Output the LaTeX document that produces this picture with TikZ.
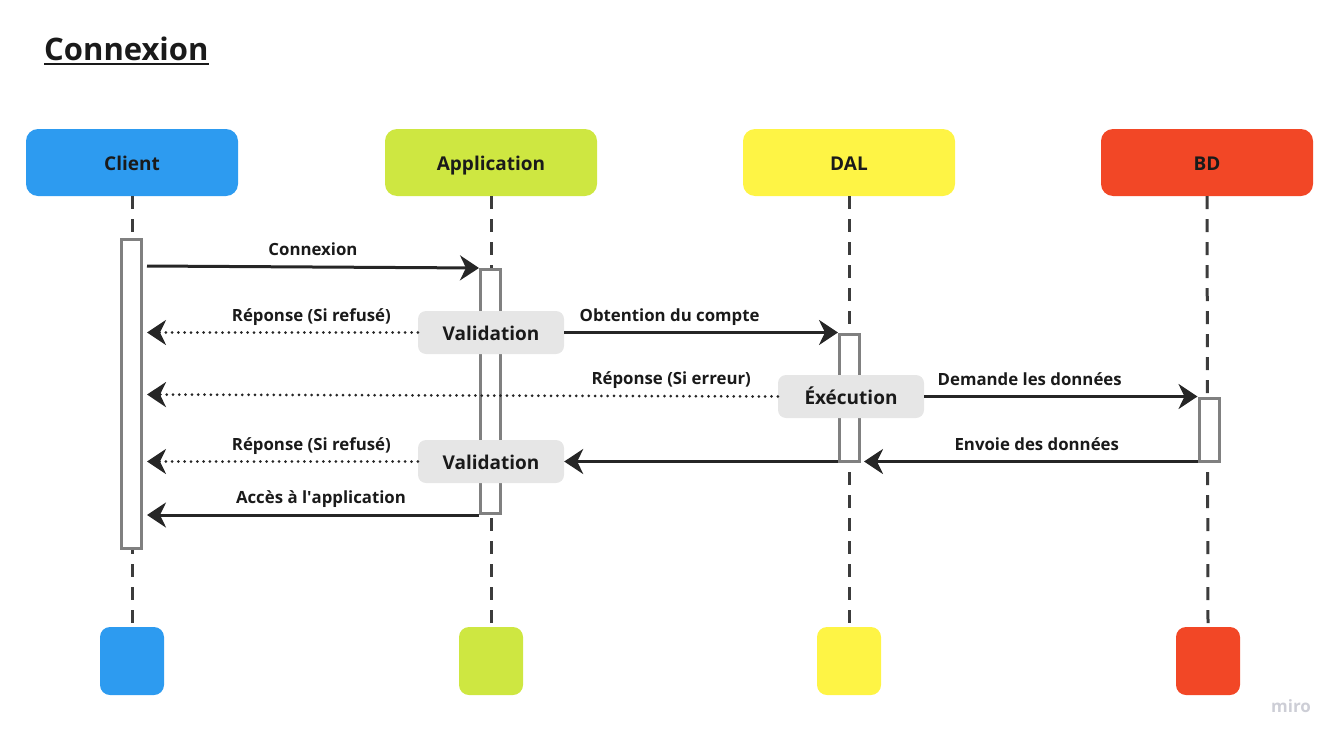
\documentclass[tikz,border=0pt]{standalone}
\usepackage{fontspec}
\setmainfont{Open Sans}
\usetikzlibrary{arrows.meta,calc}
\definecolor{cblue}{HTML}{2D9BF0}
\definecolor{cgreen}{HTML}{CEE741}
\definecolor{cyellow}{HTML}{FEF445}
\definecolor{cred}{HTML}{F24726}
\definecolor{ink}{HTML}{1A1A1A}
\definecolor{lineink}{HTML}{262626}
\definecolor{boxgray}{HTML}{E6E6E6}
\definecolor{bargray}{HTML}{808080}
\definecolor{mirogray}{HTML}{CDCED6}
\tikzset{
  hdr/.style={rounded corners=12pt, minimum width=212pt, minimum height=67pt, inner sep=0pt,
    text=ink, font=\fontsize{19}{21}\selectfont\bfseries, text height=16.6pt, text depth=0pt},
  ftr/.style={rounded corners=10pt, minimum width=64pt, minimum height=68pt, inner sep=0pt},
  life/.style={draw=lineink!90, line width=3pt, dash pattern=on 13pt off 10pt},
  actbar/.style={draw=bargray, fill=white, line width=3pt, minimum width=20pt, inner sep=0pt},
  gbox/.style={fill=boxgray, rounded corners=8pt, minimum width=146pt, minimum height=43pt,
    inner sep=0pt, text=ink, font=\fontsize{19}{21}\selectfont\bfseries, text height=16.6pt, text depth=0pt},
  msg/.style={draw=lineink, line width=3pt, -{Stealth[length=19pt, width=25pt, inset=6pt]}},
  dotmsg/.style={msg, dash pattern=on 0pt off 6.3pt, line cap=round},
  lbl/.style={text=ink, font=\fontsize{16.8}{18}\selectfont\bfseries, inner sep=0pt,
    text height=12pt, text depth=3.5pt, above=6.5pt},
}
\begin{document}
\begin{tikzpicture}[x=1pt, y=-1pt]
\useasboundingbox (0,0) rectangle (1343,744);

% title
\node[anchor=base west, inner sep=0pt, text=ink, font=\fontsize{31}{34}\selectfont\bfseries] (title) at (44,60) {Connexion};
\draw[ink, line width=2pt] ([yshift=-3.5pt]title.base west) -- ([yshift=-3.5pt]title.base east);

% headers
\node[hdr, fill=cblue]   (client) at (132,162.5) {Client};
\node[hdr, fill=cgreen]  (app)    at (491,162.5) {Application};
\node[hdr, fill=cyellow] (dal)    at (849,162.5) {DAL};
\node[hdr, fill=cred]    (bd)     at (1207,162.5) {BD};

% footers
\node[ftr, fill=cblue]   (clientB) at (132,661) {};
\node[ftr, fill=cgreen]  (appB)    at (491,661) {};
\node[ftr, fill=cyellow] (dalB)    at (849,661) {};
\node[ftr, fill=cred]    (bdB)     at (1208,661) {};

% lifelines
\draw[life] (client.south) -- (clientB.north);
\draw[life] (app.south) -- (appB.north);
\draw[life] (dal.south) -- (dalB.north);
\draw[life] (bd.south) -- (bdB.north);

% activation bars
\node[actbar, minimum height=309pt] (cact) at (131.5,394) {};
\node[actbar, minimum height=244pt] (aact) at (490.5,391.5) {};
\node[actbar, minimum height=127pt] (dact) at (849.5,398) {};
\node[actbar, minimum height=63pt]  (bact) at (1209,430) {};

% grey boxes
\node[gbox] (val1) at (491,332.5) {Validation};
\node[gbox] (exec) at (851,396.5) {Éxécution};
\node[gbox] (val2) at (491,461.5) {Validation};

% messages
\coordinate (c0) at (147,266);
\draw[msg] (c0) -- (aact.north west) node[lbl, pos=0.5] (l1) {Connexion};
\draw[dotmsg] (val1.west) -- ($(cact.east |- val1.west)+(4,0)$) node[lbl, pos=0.393] (l2) {Réponse (Si refusé)};
\draw[msg] (val1.east) -- (dact.west |- val1.east) node[lbl, pos=0.385] (l3) {Obtention du compte};
\draw[dotmsg] (exec.west) -- ($(cact.east |- exec.west)+(4,-2)$) node[lbl, pos=0.169] (l4) {Réponse (Si erreur)};
\draw[msg] (exec.east) -- (bact.west |- exec.east) node[lbl, pos=0.386] (l5) {Demande les données};
\draw[msg] (bact.west |- val2.east) -- ($(dact.east |- val2.east)+(3,0)$) node[lbl, pos=0.482] (l6) {Envoie des données};
\draw[msg] (dact.west |- val2.east) -- (val2.east);
\draw[dotmsg] (val2.west) -- ($(cact.east |- val2.west)+(4,0)$) node[lbl, pos=0.393] (l7) {Réponse (Si refusé)};
\draw[msg] (aact.south west) -- ($(cact.east |- aact.south west)+(4,0)$) node[lbl, pos=0.476] (l8) {Accès à l\textquotesingle application};

% watermark
\node[text=mirogray, font=\fontsize{17}{18}\selectfont\bfseries, inner sep=0pt] (miro) at (1291,706) {miro};
\end{tikzpicture}
\end{document}
